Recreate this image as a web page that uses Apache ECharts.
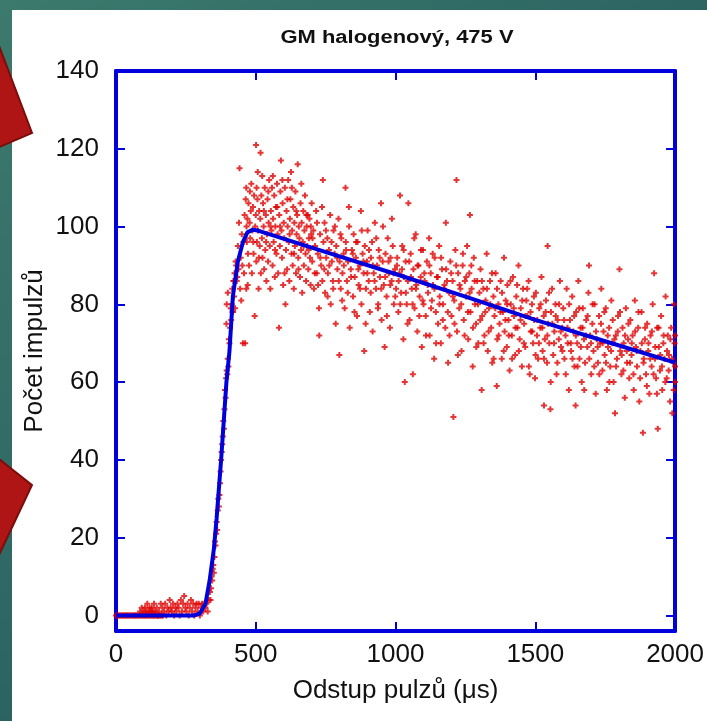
<!DOCTYPE html>
<html>
<head>
<meta charset="utf-8">
<script src="https://cdn.jsdelivr.net/npm/echarts@6/dist/echarts.min.js"></script>
<style>
  html, body { margin: 0; padding: 0; }
  #chart { width: 707px; height: 721px; }
</style>
</head>
<body>
<div id="chart"></div>
<script>
// tick labels
const xTicks = [0, 500, 1000, 1500, 2000]
const yTicks = [0, 20, 40, 60, 80, 100, 120, 140]

// fit curve (blue)
const fitX = [0, 280, 300, 320, 335, 350, 360, 376, 395, 406, 418, 436, 454, 470, 490, 505, 700, 1000, 1250, 1500, 1750, 2000]
const fitY = [0, 0, 0.5, 3, 9, 17, 25, 40, 60, 68, 82, 91, 96, 98.5, 99.2, 99, 94.6, 87.8, 82, 76, 70.5, 65]

// measured counts (red), [x, y]
const baseZeroX = [0, 4, 8, 12, 16, 20, 24, 28, 32, 36, 40, 44, 48, 52, 56, 60, 64, 68, 72, 76, 80, 84, 88, 92, 96, 100, 104, 108, 112, 116, 120, 124, 128, 132, 136, 140, 144, 148, 152, 156, 160, 164, 168]
const basePts = [[86,1],[92,2],[98,1],[104,2],[108,1],[112,3],[116,1],[120,2],[124,1],[128,2],[132,1],[136,3],[140,1],[146,2],[150,0],[154,1],[160,3],[166,2],[172,1],[176,3],[180,0],[184,2],[188,1],[192,4],[196,2],[200,1],[204,3],[208,0],[212,2],[216,1],[220,3],[224,2],[228,0],[232,4],[236,1],[240,3],[244,5],[248,2],[252,1],[256,3],[260,0],[264,2],[268,4],[272,1],[276,3],[280,0],[284,2],[288,3],[292,1],[296,3],[300,0],[304,2],[308,3],[312,1],[316,3],[320,2],[324,3],[328,1],[332,4]]
const risePts = [[336,6],[338,4],[340,7],[342,10],[344,9],[346,12],[348,13],[350,11],[352,15],[354,19],[356,18],[358,21],[360,24],[362,22],[364,27],[366,30],[368,28],[370,31],[372,34],[374,37],[376,40],[378,42],[380,44],[382,46],[384,50],[386,48],[388,53],[390,58],[392,56],[394,61],[395,75],[396,63],[396,80],[398,62],[400,66],[400,83],[402,64],[404,71],[406,70],[408,74],[410,79],[412,76],[414,80],[416,84],[417,78],[418,78],[420,86],[422,82],[422,86],[424,88],[426,79],[428,91],[430,90],[432,86],[434,87],[436,95],[438,89],[440,101],[442,115],[444,84],[446,92],[448,81],[450,98],[452,90],[454,70],[456,96],[458,88],[460,103],[462,70]]
const peakPts = [[464,107],[466,110],[466,84],[467,100],[468,96],[470,102],[471,85],[472,93],[474,106],[476,90],[478,101],[479,109],[480,97],[482,104],[484,111],[486,88],[488,99],[490,105],[491,96],[492,93],[494,108],[496,77],[498,100],[500,103],[501,121],[502,91],[503,110],[504,96],[506,107],[507,114],[508,99],[510,84],[511,92],[512,104],[514,95],[516,102],[517,119],[518,88],[520,108],[522,97],[523,113],[524,92],[526,106],[528,100],[529,104],[530,89],[532,110],[534,94],[536,103],[537,96],[538,86],[540,98],[542,107],[544,91],[545,109],[546,101],[548,112],[550,95],[552,84],[553,100],[554,104],[556,99],[558,110],[560,90],[561,113],[562,102],[564,96],[566,108],[568,87],[569,94],[570,100],[572,105],[574,93],[576,111],[577,105],[578,98],[580,88],[583,74],[584,103],[586,95],[587,100],[588,109],[590,117],[592,99],[594,92],[595,112],[596,106],[598,85],[600,101],[602,97],[603,88],[604,110],[606,80],[608,94],[610,104],[612,89],[613,107],[614,100],[616,112],[618,96],[620,86],[621,98],[622,102],[624,107],[626,114],[628,93],[629,110],[630,99],[632,90],[634,105],[636,84],[637,93],[638,101],[640,95],[642,109],[644,88],[645,104],[646,98],[648,103],[650,116],[652,92],[653,89],[654,100],[656,97],[658,87],[660,106],[662,94],[663,111],[664,101],[666,83],[668,96],[670,104],[671,95],[672,90],[674,99],[676,108],[678,93],[680,86],[681,103],[682,100],[684,95],[686,103],[688,89],[689,94],[690,97],[692,102],[694,92],[696,85],[697,100],[698,98],[700,106]]
const midPts = [[702,91],[706,99],[708,84],[712,95],[716,104],[718,88],[722,93],[726,79],[727,72],[730,98],[734,90],[738,86],[740,112],[742,96],[746,101],[748,83],[752,92],[756,97],[758,88],[762,94],[766,103],[768,80],[772,91],[776,86],[778,99],[782,93],[786,75],[788,95],[792,89],[796,102],[799,67],[800,91],[804,84],[806,97],[810,88],[814,93],[818,79],[821,110],[822,96],[826,86],[830,91],[834,100],[836,74],[840,89],[844,94],[848,82],[850,98],[854,87],[858,92],[862,77],[864,96],[868,85],[872,90],[876,104],[878,80],[882,93],[886,88],[888,68],[890,95],[894,84],[898,91],[900,99],[904,86],[908,78],[912,92],[916,96],[918,73],[922,88],[926,101],[930,84],[934,90],[938,80],[940,94],[944,87],[948,106],[950,76],[954,91],[958,85],[961,69],[964,93],[968,82],[972,97],[976,88],[980,74],[982,92],[986,86],[990,95],[994,80],[998,89],
  [1002,84],[1006,92],[1010,78],[1014,88],[1016,108],[1020,83],[1024,95],[1028,71],[1030,87],[1033,60],[1036,91],[1040,80],[1044,86],[1046,106],[1050,76],[1054,93],[1058,84],[1062,62],[1064,89],[1068,79],[1072,98],[1074,85],[1078,73],[1082,90],[1086,82],[1090,87],[1094,69],[1098,94],[1100,80],[1104,86],[1108,77],[1112,91],[1116,83],[1120,97],[1122,72],[1126,88],[1130,81],[1134,85],[1138,66],[1140,92],[1144,78],[1148,87],[1152,75],[1156,95],[1158,82],[1162,70],[1166,89],[1170,80],[1174,84],[1178,74],[1180,101],[1184,86],[1188,65],[1192,83],[1196,91],[1200,77],[1204,86],[1207,51],[1210,81],[1214,94],[1218,112],[1220,73],[1224,88],[1228,79],[1232,84],[1236,68],[1240,90],[1244,76],[1248,86],[1252,82],[1256,95],[1260,71],[1264,88],[1266,103],[1268,78],[1272,84],[1276,64],[1280,92],[1284,80],[1288,75],[1292,86],[1296,70],[1300,83]]
const tailPts = [[1304,89],[1308,58],[1310,77],[1314,84],[1318,72],[1322,81],[1326,93],[1330,68],[1334,79],[1338,86],[1342,74],[1346,65],[1350,82],[1354,77],[1358,88],[1362,59],[1364,71],[1368,80],[1372,75],[1376,86],[1380,66],[1384,78],[1388,92],[1390,73],[1394,81],[1398,69],[1400,85],[1404,76],[1408,63],[1412,80],[1416,72],[1420,87],[1424,77],[1428,67],[1432,82],[1436,74],[1440,90],[1444,71],[1448,79],[1452,64],[1456,84],[1460,75],[1464,69],[1468,81],[1472,77],[1476,86],[1480,62],[1484,73],[1488,80],[1492,70],[1496,76],[1499,61],[1502,83],[1506,72],[1510,66],[1514,79],[1518,74],[1522,87],[1526,68],[1530,77],[1531,54],[1534,71],[1538,81],[1542,65],[1544,95],[1546,75],[1550,70],[1554,53],[1556,78],[1560,84],[1564,67],[1568,73],[1572,80],[1576,62],[1580,76],[1584,71],[1588,86],[1592,69],[1596,74],[1600,79],
  [1604,66],[1608,72],[1612,84],[1616,70],[1620,58],[1624,76],[1628,68],[1632,82],[1636,73],[1640,64],[1644,54],[1646,78],[1650,70],[1654,86],[1658,66],[1662,74],[1666,60],[1670,79],[1674,71],[1678,65],[1682,76],[1686,69],[1690,83],[1692,90],[1696,72],[1700,62],[1704,75],[1708,68],[1712,80],[1716,57],[1720,71],[1724,65],[1728,77],[1732,70],[1736,84],[1740,63],[1744,73],[1748,67],[1752,79],[1756,58],[1760,69],[1764,74],[1768,64],[1772,81],[1776,70],[1780,60],[1785,52],[1788,72],[1792,66],[1796,77],[1801,89],[1804,68],[1808,62],[1812,74],[1816,70],[1820,56],[1824,79],[1828,65],[1832,71],[1836,61],[1840,76],[1844,67],[1848,72],[1852,58],[1856,81],[1860,69],[1864,64],[1868,74],[1872,55],[1876,68],[1880,78],[1885,47],[1888,66],[1892,71],[1896,62],[1900,75],[1904,68],[1908,57],[1912,72],[1916,64],[1920,80],[1925,88],[1928,66],[1932,61],[1936,74],[1938,48],[1942,69],[1946,63],[1950,77],[1954,58],[1958,70],[1962,66],[1966,82],[1970,61],[1974,72],[1978,67],[1982,55],[1986,74],[1990,52],[1994,65],[1996,80],[1998,70],[2000,72],[2000,60],[2000,64]]
const extraPts = [[703,97],[711,88],[719,101],[723,85],[731,92],[737,105],[745,89],[751,99],[757,82],[763,90],[771,96],[777,84],[783,100],[791,92],[797,86],[803,98],[809,81],[815,90],[823,94],[829,83],[833,105],[841,87],[847,93],[853,78],[859,96],[867,89],[873,84],[879,99],[885,91],[893,75],[899,88],[905,94],[911,83],[919,90],[925,86],[931,97],[937,79],[943,92],[949,84],[955,100],[963,87],[969,77],[975,91],[981,85],[987,102],[993,88],[999,82],
  [1005,90],[1011,86],[1017,80],[1023,89],[1029,94],[1037,83],[1043,75],[1049,91],[1055,87],[1061,80],[1067,97],[1073,84],[1079,90],[1085,77],[1091,94],[1097,81],[1103,88],[1109,72],[1115,85],[1121,90],[1127,79],[1133,93],[1139,84],[1145,70],[1151,87],[1157,80],[1163,92],[1169,76],[1175,85],[1181,89],[1187,78],[1193,72],[1199,88],[1205,82],[1211,75],[1217,90],[1223,67],[1229,85],[1235,80],[1241,93],[1247,72],[1253,87],[1259,78],[1265,83],[1271,90],[1277,74],[1283,86],[1289,69],[1295,80],
  [1303,76],[1309,86],[1315,70],[1321,78],[1327,84],[1333,73],[1339,80],[1345,88],[1351,66],[1357,79],[1363,84],[1369,72],[1375,78],[1381,83],[1387,68],[1393,76],[1399,80],[1405,72],[1411,86],[1417,66],[1423,79],[1429,74],[1435,85],[1441,68],[1447,76],[1453,81],[1459,70],[1465,77],[1471,84],[1477,64],[1483,78],[1489,73],[1495,82],[1501,67],[1507,76],[1513,70],[1519,80],[1525,74],[1531,66],[1537,78],[1543,72],[1549,83],[1555,60],[1561,75],[1567,70],[1573,77],[1579,65],[1585,80],[1591,73],[1597,68],
  [1603,76],[1609,62],[1615,74],[1621,80],[1627,70],[1633,66],[1639,77],[1645,72],[1651,64],[1657,79],[1663,69],[1669,74],[1675,58],[1681,72],[1687,77],[1693,66],[1699,70],[1705,80],[1711,64],[1717,73],[1723,69],[1729,62],[1735,75],[1741,70],[1747,78],[1753,65],[1759,72],[1765,60],[1771,68],[1777,76],[1783,71],[1789,64],[1795,73],[1803,78],[1809,67],[1815,63],[1821,72],[1827,68],[1833,75],[1839,65],[1845,70],[1851,62],[1857,73],[1863,68],[1869,78],[1875,61],[1881,70],[1887,65],[1893,74],[1899,59],[1905,70],[1911,66],[1917,73],[1923,62],[1929,69],[1935,57],[1941,74],[1947,67],[1953,64],[1959,72],[1965,60],[1971,68],[1977,63],[1983,71],[1989,66],[1995,58]]

const BLUE = '#0000dd'
const RED = '#e00000'
const FONT = 'Liberation Sans, Arial, sans-serif'

const measured = baseZeroX.map(x => [x, 0]).concat(basePts, risePts, peakPts, midPts, tailPts, extraPts)
const fit = fitX.map((x, i) => [x, fitY[i]])

const myChart = echarts.init(document.getElementById('chart'))

const frameX = (pos, showLabel) => ({
  type: 'value',
  position: pos,
  min: 0,
  max: 2000,
  interval: 500,
  splitLine: { show: false },
  axisLine: { show: true, onZero: false, lineStyle: { color: BLUE, width: 4 } },
  axisTick: { show: true, inside: true, length: 9, lineStyle: { color: BLUE, width: 2 } },
  axisLabel: {
    show: showLabel,
    color: '#111',
    fontSize: 26,
    fontFamily: FONT,
    margin: 11,
    formatter: v => (xTicks.indexOf(v) >= 0 ? String(v) : '')
  }
})

const frameY = (pos, showLabel) => ({
  type: 'value',
  position: pos,
  min: -4,
  max: 140,
  splitLine: { show: false },
  axisLine: { show: true, onZero: false, lineStyle: { color: BLUE, width: 4 } },
  axisTick: { show: true, inside: true, length: 9, customValues: yTicks, lineStyle: { color: BLUE, width: 2 } },
  axisLabel: {
    show: showLabel,
    customValues: yTicks,
    color: '#111',
    fontSize: 26,
    fontFamily: FONT,
    margin: 17
  }
})

const bottomX = frameX('bottom', true)
bottomX.name = 'Odstup pulzů (μs)'
bottomX.nameLocation = 'middle'
bottomX.nameGap = 47
bottomX.nameMoveOverlap = false
bottomX.nameTextStyle = { color: '#111', fontSize: 26, fontFamily: FONT }

const leftY = frameY('left', true)
leftY.name = 'Počet impulzů'
leftY.nameLocation = 'middle'
leftY.nameGap = 68
leftY.nameMoveOverlap = false
leftY.nameTextStyle = { color: '#111', fontSize: 26, fontFamily: FONT }

myChart.setOption({
  animation: false,
  backgroundColor: new echarts.graphic.LinearGradient(0, 0, 1, 1, [
    { offset: 0, color: '#3c7a6d' },
    { offset: 0.5, color: '#2c6462' },
    { offset: 1, color: '#1d4852' }
  ]),
  graphic: [
    { type: 'rect', z: -10, shape: { x: 12, y: 10, width: 700, height: 720 }, style: { fill: '#ffffff' } },
    { type: 'polygon', z: 100, shape: { points: [[-10, 22], [32, 133], [-10, 151]] }, style: { fill: '#b01515', stroke: '#7c0d0d', lineWidth: 2 } },
    { type: 'polygon', z: 100, shape: { points: [[-10, 452], [32, 485], [-10, 574]] }, style: { fill: '#b01515', stroke: '#7c0d0d', lineWidth: 2 } },
    {
      type: 'text', z: 100, x: 397, y: 38, scaleX: 1.22,
      style: { text: 'GM halogenový, 475 V', fill: '#111', fontSize: 18, fontWeight: 'bold', fontFamily: FONT, align: 'center', verticalAlign: 'middle' }
    }
  ],
  grid: { left: 116, right: 30, top: 71, bottom: 90 },
  xAxis: [bottomX, frameX('top', false)],
  yAxis: [leftY, frameY('right', false)],
  series: [
    {
      name: 'data',
      type: 'scatter',
      xAxisIndex: 0,
      yAxisIndex: 0,
      symbol: 'path://M0,2H6V4H0ZM2,0H4V6H2Z',
      symbolSize: 6,
      itemStyle: { color: RED },
      data: measured,
      z: 2
    },
    {
      name: 'fit',
      type: 'line',
      xAxisIndex: 0,
      yAxisIndex: 0,
      showSymbol: false,
      smooth: false,
      lineStyle: { color: BLUE, width: 4 },
      data: fit,
      z: 3
    }
  ]
})
</script>
</body>
</html>
